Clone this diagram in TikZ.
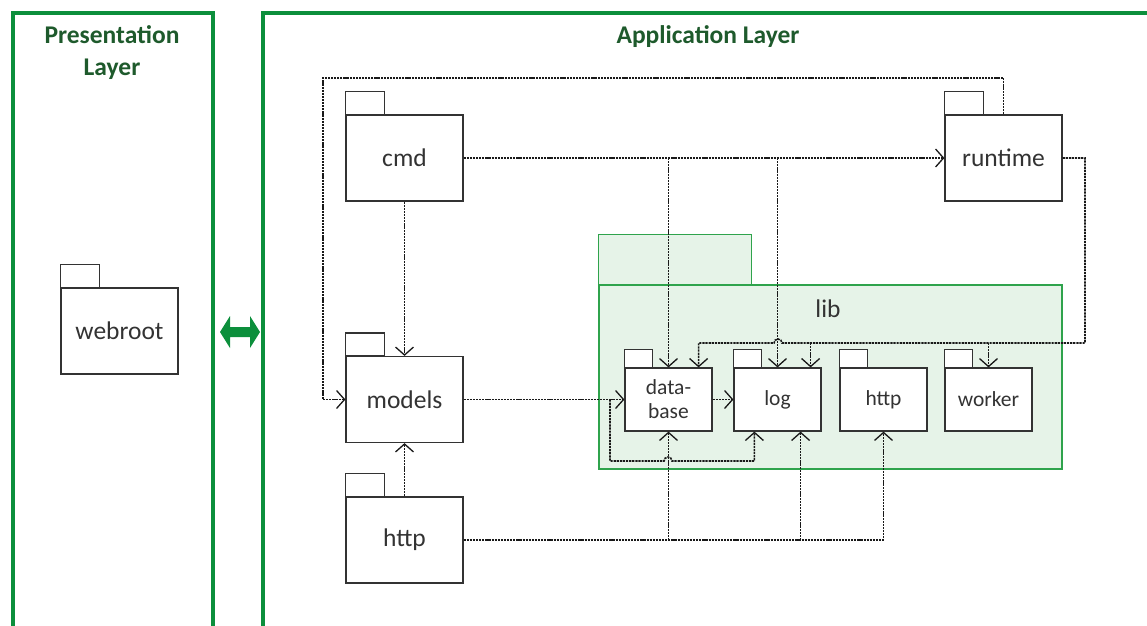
\documentclass[tikz,border=0pt]{standalone}
\usepackage{fontspec}
\setmainfont{Carlito}
\usetikzlibrary{arrows.meta,calc}
\definecolor{framegreen}{HTML}{0C8F3C}
\definecolor{titlegreen}{HTML}{1E5A2C}
\definecolor{libgreen}{HTML}{2FA34C}
\definecolor{libfill}{HTML}{E6F3E8}
\definecolor{inkgray}{HTML}{333333}
\tikzset{
  frame/.style={draw=framegreen,line width=4pt},
  title/.style={text=titlegreen,font=\bfseries\fontsize{25.5}{32}\selectfont,align=center},
  bigpkg/.style={draw=inkgray,fill=white,line width=1.2pt,minimum width=117pt,minimum height=86pt,inner sep=0pt,font=\fontsize{25.5}{28}\selectfont,text=black!80},
  smallpkg/.style={draw=inkgray,fill=white,line width=1.2pt,minimum width=87pt,minimum height=63pt,inner sep=0pt,font=\fontsize{21.5}{24}\selectfont,text=black!80,align=center},
  tab/.style={draw=inkgray,fill=white,line width=1.2pt},
  dep/.style={draw=black!90,line width=1.6pt,dash pattern=on 2.2pt off 0.9pt,-{Straight Barb[length=8pt,width=18pt,line width=1.3pt]}},
}
\begin{document}
\begin{tikzpicture}[x=1pt,y=-1pt]
\useasboundingbox (0,0) rectangle (1147,625);
% layer frames
\draw[frame] (13,650) -- (13,13) -- (213,13) -- (213,650);
\draw[frame] (263,650) -- (263,13) -- (1170,13);
\node[title] (ptitle) at (112,53) {Presentation\\Layer};
\node[title] (atitle) at (708,37) {Application Layer};
% double arrow
\fill[framegreen] (220,332) -- (230,316) -- (230,327) -- (250,327) -- (250,316) -- (260,332)
  -- (250,348) -- (250,337) -- (230,337) -- (230,348) -- cycle;
% webroot
\node[bigpkg] (webroot) at (119.5,331) {webroot};
\draw[tab] (webroot.north west) rectangle ++(39,-23);
% lib container
\node[draw=libgreen,fill=libfill,line width=1.2pt,minimum width=463pt,minimum height=184pt,inner sep=0pt] (lib) at (830.5,377) {};
\draw[draw=libgreen,fill=libfill,line width=1.2pt] (lib.north west) rectangle ++(153,-50);
\node[font=\fontsize{25.5}{28}\selectfont,text=black!80] (libtxt) at (828,309) {lib};
% outer packages
\node[bigpkg] (cmd) at (404.5,158) {cmd};
\draw[tab] (cmd.north west) rectangle ++(39,-23);
\node[bigpkg] (models) at (404.5,399.5) {models};
\draw[tab] (models.north west) rectangle ++(39,-23);
\node[bigpkg] (httpo) at (404.5,540) {http};
\draw[tab] (httpo.north west) rectangle ++(39,-23);
\node[bigpkg] (runtime) at (1003.5,158) {runtime};
\draw[tab] (runtime.north west) rectangle ++(39,-23);
% inner packages
\node[smallpkg] (db) at (668.5,399.5) {data-\\base};
\draw[tab] (db.north west) rectangle ++(28,-18);
\node[smallpkg] (log) at (777.5,399.5) {log};
\draw[tab] (log.north west) rectangle ++(28,-18);
\node[smallpkg] (httpi) at (883.5,399.5) {http};
\draw[tab] (httpi.north west) rectangle ++(28,-18);
\node[smallpkg] (worker) at (988.5,399.5) {worker};
\draw[tab] (worker.north west) rectangle ++(28,-18);
% connectors
\coordinate (rtturn) at (1085,343);
\coordinate (dbin) at ($(db.north east)+(-14,0)$);
\coordinate (login) at ($(log.north east)+(-11,0)$);
\coordinate (logbl) at ($(log.south west)+(21,0)$);
\coordinate (logbr) at ($(log.south east)+(-21,0)$);
\coordinate (mbranch) at (610,399.5);
% cmd -> runtime, database, log
\draw[dep] (cmd.east) -- (runtime.west);
\draw[dep] (cmd.east -| db.north) -- (db.north);
\draw[dep] (cmd.east -| log.north) -- (log.north);
% cmd -> models
\draw[dep] (cmd.south) -- (models.north);
% runtime -> models
\draw[dep] (runtime.north) |- (323,78) |- (models.west);
% runtime -> database, log, worker
\draw[dep] (runtime.east) -| (rtturn) -- (782,343) arc[start angle=0,end angle=-180,radius=4] -| (dbin);
\draw[dep] (rtturn -| login) -- (login);
\draw[dep] (rtturn -| worker.north) -- (worker.north);
% models -> database, log
\draw[dep] (models.east) -- (db.west);
\draw[dep] (mbranch) -- (610,461) -- (664,461) arc[start angle=180,end angle=360,radius=4] -| (logbl);
% database -> log
\draw[dep] (db.east) -- (log.west);
% http -> models
\draw[dep] (httpo.north) -- (models.south);
% http -> database, log, http
\draw[dep] (httpo.east) -| (httpi.south);
\draw[dep] (httpo.east -| db.south) -- (db.south);
\draw[dep] (httpo.east -| logbr) -- (logbr);
\end{tikzpicture}
\end{document}
